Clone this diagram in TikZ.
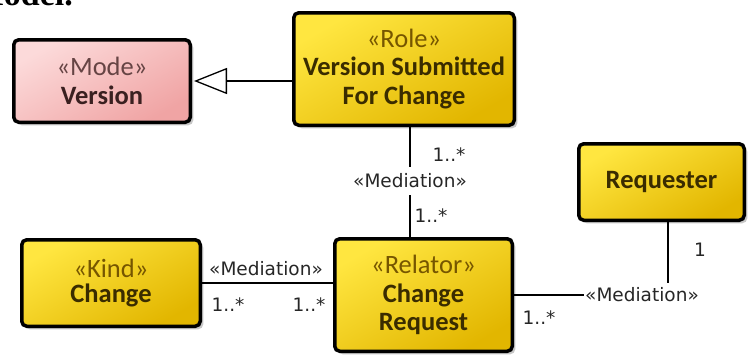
\documentclass[tikz,border=0pt]{standalone}
\usepackage{fontspec}
\setmainfont{Carlito}
\newfontfamily\linkfont{DejaVu Sans}
\newfontfamily\headfont{Liberation Serif}
\usetikzlibrary{arrows.meta,shadows}

\definecolor{goldlight}{HTML}{FFE640}
\definecolor{golddark}{HTML}{E2B600}
\definecolor{pinklight}{HTML}{FCDADA}
\definecolor{pinkdark}{HTML}{F0A4A4}
\definecolor{inkname}{HTML}{3A2C00}
\definecolor{inkstereo}{HTML}{765600}
\definecolor{inkpink}{HTML}{3A2020}
\definecolor{stereopink}{HTML}{664444}

\tikzset{
  classbox/.style={draw=black, line width=3.5pt, rounded corners=5pt,
    inner sep=0pt, align=center, font=\fontsize{26.5}{28.5}\selectfont,
    drop shadow={shadow xshift=3pt, shadow yshift=-3pt, fill=black, opacity=0.22}},
  goldbox/.style={classbox, top color=goldlight, bottom color=golddark,
    shading angle=30, text=inkname},
  pinkbox/.style={classbox, top color=pinklight, bottom color=pinkdark,
    shading angle=30, text=inkpink},
  linklabel/.style={font=\linkfont\fontsize{18.5}{18.5}\selectfont, inner sep=1pt, text=black!85},
  link/.style={draw=black, line width=1.3pt},
  gen/.style={draw=black, line width=1.3pt,
    -{Triangle[open, length=33pt, width=26pt, line width=1.3pt]}, shorten >=2pt},
}

\begin{document}
\begin{tikzpicture}[x=1pt, y=-1pt]
  \useasboundingbox (0,0) rectangle (749,354);

  % heading line cut by the top edge
  \begin{scope}
    \clip (0,0) rectangle (749,354);
    \node[font=\headfont\bfseries\fontsize{34}{34}\selectfont, anchor=base east,
      inner sep=0pt] (heading) at (73,5) {Model.};
  \end{scope}

  % classes
  \node[pinkbox, minimum width=176.5pt, minimum height=82.5pt] (ver) at (102,81)
    {{\color{stereopink}«Mode»}\\\textbf{Version}};
  \node[goldbox, minimum width=220.5pt, minimum height=112.5pt] (role) at (404,69)
    {{\color{inkstereo}«Role»}\\\textbf{Version Submitted}\\\textbf{For Change}};
  \node[goldbox, minimum width=165.5pt, minimum height=76.5pt] (req) at (661.5,182)
    {\textbf{Requester}};
  \node[goldbox, minimum width=178.5pt, minimum height=86.5pt,
    font=\fontsize{26.5}{25}\selectfont] (kind) at (111,283)
    {{\color{inkstereo}«Kind»}\\\textbf{Change}};
  \node[goldbox, minimum width=177.5pt, minimum height=112.5pt] (rel) at (423.5,295)
    {{\color{inkstereo}«Relator»}\\\textbf{Change}\\\textbf{Request}};

  % generalization
  \draw[gen] (ver.east -| role.west) -- (ver.east);

  % mediation: role -- relator
  \node[linklabel, inner ysep=7pt] (med1) at (410,181) {«Mediation»};
  \draw[link] (role.south -| med1) -- (med1.north);
  \draw[link] (med1.south) -- (rel.north -| med1);
  \node[linklabel] (m1a) at (449,155) {1..*};
  \node[linklabel] (m1b) at (431,216) {1..*};

  % mediation: kind -- relator
  \draw[link] (kind.east) -- (kind.east -| rel.west);
  \node[linklabel] (med2) at (266,269) {«Mediation»};
  \node[linklabel] (m2a) at (228,305) {1..*};
  \node[linklabel] (m2b) at (309,305) {1..*};

  % mediation: relator -- requester
  \node[linklabel] (med3) at (642,295) {«Mediation»};
  \coordinate (bend) at (668,283);
  \draw[link] (rel.east) -- (rel.east -| med3.west);
  \draw[link] (req.south -| bend) -- (bend);
  \node[linklabel] (m3a) at (700,250) {1};
  \node[linklabel] (m3b) at (539,318) {1..*};
\end{tikzpicture}
\end{document}
